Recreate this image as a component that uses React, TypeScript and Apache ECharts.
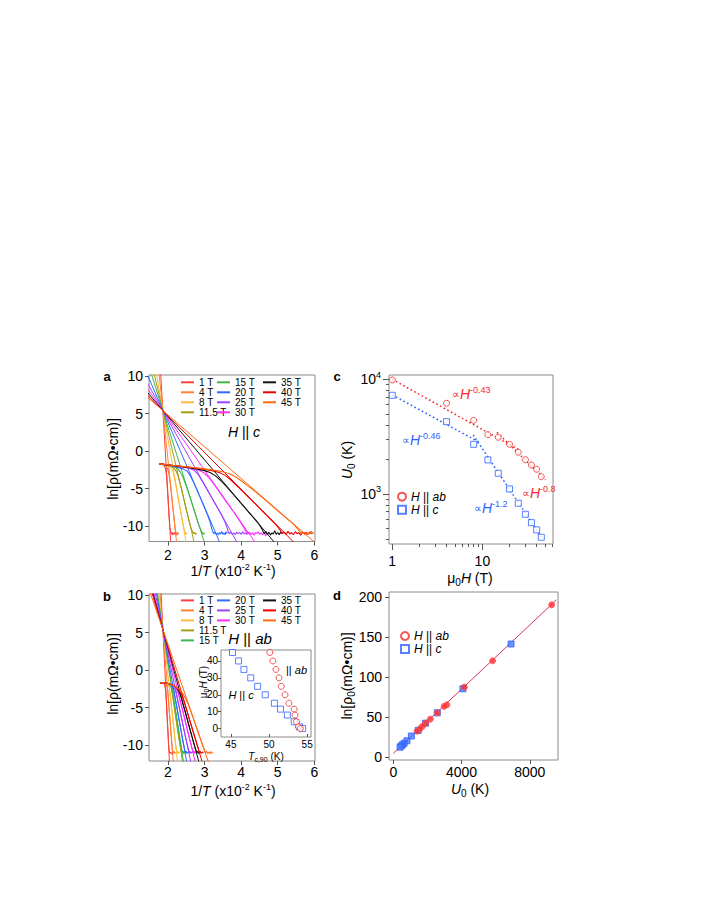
import React, { useEffect, useRef } from 'react';
import * as echarts from 'echarts';

const FF = '"Liberation Sans", Arial, Helvetica, sans-serif';

// ---------- shared field list ----------
const FIELDS = ['1 T', '4 T', '8 T', '11.5 T', '15 T', '20 T', '25 T', '30 T', '35 T', '40 T', '45 T'];
const FIELD_COLORS = ['#ff4040', '#ff8030', '#ffbb3a', '#a39d12', '#3fb64a', '#2f6bff', '#a040ff', '#ff2bff', '#111111', '#ee0000', '#ff6a13'];

// ---------- panel a (H || c): Arrhenius fit lines (end points) ----------
const FIT_Y = [10.5, -12.3];
const aFitTopX = [1.798, 1.751, 1.675, 1.611, 1.531, 1.409, 1.271, 1.127, 0.975, 0.819, 0.654];
const aFitBotX = [2.074, 2.237, 2.501, 2.723, 3.002, 3.426, 3.904, 4.403, 4.933, 5.472, 6.044];

// panel a measured curves
const a1T = [[1.77,-1.7],[1.85,-1.78],[1.9,-1.95],[1.93,-2.3],[1.96,-3.2],[1.99,-5.4],[2.02,-7.9],[2.05,-10.1],[2.07,-10.8],[2.09,-11.1],[2.11,-10.8],[2.13,-11.2],[2.15,-10.9],[2.17,-11.1],[2.19,-10.8],[2.21,-11.0],[2.23,-11.2],[2.25,-10.9]];
const a4T = [[1.77,-1.7],[1.85,-1.78],[1.92,-1.9],[1.97,-2.1],[2.0,-2.5],[2.03,-3.2],[2.06,-4.3],[2.1,-6.0],[2.14,-7.9],[2.18,-9.7],[2.2,-10.5],[2.22,-10.9],[2.24,-11.1],[2.26,-10.8],[2.28,-11.1],[2.3,-10.9]];
const a8T = [[1.77,-1.7],[1.85,-1.78],[1.95,-1.88],[2.03,-2.0],[2.09,-2.3],[2.14,-2.8],[2.18,-3.6],[2.23,-4.9],[2.28,-6.3],[2.34,-7.9],[2.4,-9.5],[2.44,-10.4],[2.47,-10.8],[2.49,-11.1],[2.51,-10.9],[2.53,-11.0]];
const a11T = [[1.77,-1.7],[1.9,-1.82],[2.0,-1.92],[2.1,-2.05],[2.17,-2.3],[2.23,-2.75],[2.28,-3.4],[2.34,-4.5],[2.4,-5.7],[2.47,-7.2],[2.54,-8.6],[2.61,-10.0],[2.66,-10.6],[2.69,-11.0],[2.72,-10.8],[2.75,-11.1],[2.78,-10.9]];
const a15T = [[1.77,-1.7],[1.9,-1.82],[2.05,-1.95],[2.18,-2.1],[2.27,-2.35],[2.34,-2.8],[2.41,-3.5],[2.48,-4.4],[2.56,-5.5],[2.65,-6.9],[2.74,-8.3],[2.83,-9.7],[2.9,-10.5],[2.93,-11.0],[2.95,-10.8],[2.97,-11.1],[3.0,-10.9]];
const a20T = [[1.77,-1.7],[1.95,-1.86],[2.15,-2.02],[2.3,-2.2],[2.42,-2.4],[2.52,-2.65],[2.6,-3.2],[2.7,-4.15],[2.8,-5.3],[2.9,-6.4],[3.0,-7.55],[3.1,-8.75],[3.16,-9.6],[3.2,-10.4],[3.23,-10.8],
  [3.26,-11.0],[3.29,-10.8],[3.32,-11.1],[3.35,-10.9],[3.38,-11.2],[3.41,-10.85],[3.44,-11.05],[3.47,-10.7],[3.5,-11.1],[3.53,-10.9],[3.56,-11.15],[3.59,-10.75],[3.62,-11.0]];
const a25T = [[1.77,-1.7],[2.0,-1.88],[2.3,-2.06],[2.55,-2.25],[2.7,-2.5],[2.8,-2.95],[2.9,-3.7],[3.0,-4.55],[3.1,-5.4],[3.2,-6.25],[3.3,-7.1],[3.4,-7.95],[3.5,-8.85],[3.57,-9.6],[3.62,-10.3],[3.65,-10.8],
  [3.68,-11.0],[3.72,-10.8],[3.76,-11.1],[3.8,-10.9],[3.84,-11.15],[3.88,-10.8],[3.92,-11.0],[3.96,-10.85],[4.0,-11.1],[4.04,-10.75],[4.08,-11.05],[4.12,-10.9],[4.16,-11.1],[4.19,-10.8]];
const a30T = [[1.77,-1.7],[2.1,-1.92],[2.4,-2.1],[2.65,-2.3],[2.85,-2.55],[3.0,-2.95],[3.1,-3.45],[3.2,-4.05],[3.3,-4.7],[3.4,-5.4],[3.6,-6.8],[3.8,-8.15],[3.95,-9.25],[4.05,-10.0],[4.12,-10.6],[4.16,-10.9],
  [4.19,-11.05],[4.23,-10.8],[4.27,-11.1],[4.31,-10.9],[4.35,-11.2],[4.39,-10.85],[4.43,-11.0],[4.47,-10.75],[4.51,-11.1],[4.55,-10.9],[4.59,-11.15],[4.63,-10.8],[4.67,-11.3],[4.7,-11.0]];
const a35T = [[1.77,-1.7],[2.1,-1.9],[2.5,-2.15],[2.8,-2.4],[3.0,-2.6],[3.15,-2.85],[3.3,-3.3],[3.45,-3.95],[3.6,-4.75],[3.8,-5.85],[4.0,-6.98],[4.2,-8.1],[4.4,-9.2],[4.5,-9.8],[4.57,-10.4],[4.61,-10.8],
  [4.64,-11.0],[4.68,-10.7],[4.72,-11.1],[4.76,-10.8],[4.8,-11.2],[4.84,-10.9],[4.88,-11.05],[4.92,-10.6],[4.96,-11.1],[5.0,-10.85],[5.04,-11.15],[5.08,-10.8],[5.12,-11.0],[5.15,-10.9]];
const a40T = [[1.77,-1.7],[2.1,-1.9],[2.5,-2.1],[2.9,-2.35],[3.2,-2.6],[3.4,-2.85],[3.55,-3.2],[3.7,-3.75],[3.85,-4.45],[4.0,-5.15],[4.4,-7.1],[4.8,-9.05],[4.95,-9.8],[5.05,-10.4],[5.1,-10.8],
  [5.13,-11.0],[5.18,-10.8],[5.23,-11.1],[5.28,-10.7],[5.33,-11.05],[5.38,-10.85],[5.43,-11.15],[5.48,-10.75],[5.53,-11.0],[5.58,-10.9],[5.63,-11.2],[5.68,-10.8],[5.73,-11.05],[5.78,-10.85],[5.83,-11.1],[5.88,-10.8],[5.93,-11.0],[5.97,-10.9]];
const a45T = [[1.77,-1.7],[2.1,-1.88],[2.5,-2.08],[2.9,-2.3],[3.2,-2.5],[3.5,-2.75],[3.7,-3.05],[3.85,-3.45],[4.0,-3.95],[4.15,-4.5],[4.3,-5.05],[4.6,-6.25],[5.0,-7.95],[5.4,-9.6],[5.52,-10.2],[5.6,-10.7],
  [5.63,-10.95],[5.67,-10.75],[5.71,-11.0],[5.75,-10.8],[5.79,-11.1],[5.83,-10.9],[5.87,-11.05],[5.91,-10.7],[5.95,-11.0],[5.99,-10.85]];
const A_CURVES = [a1T, a4T, a8T, a11T, a15T, a20T, a25T, a30T, a35T, a40T, a45T];

// ---------- panel b (H || ab) ----------
const bFitTopX = [1.808, 1.777, 1.744, 1.705, 1.697, 1.672, 1.639, 1.604, 1.575, 1.549, 1.5];
const bFitBotX = [2.039, 2.146, 2.263, 2.398, 2.427, 2.513, 2.626, 2.749, 2.849, 2.939, 3.111];

const b1T = [[1.78,-1.75],[1.85,-1.68],[1.9,-1.85],[1.93,-2.5],[1.96,-4.6],[1.99,-7.5],[2.02,-10.2],[2.035,-10.8],[2.05,-11.1],[2.07,-10.9],[2.09,-11.05],[2.11,-11.2],[2.13,-10.95]];
const b4T = [[1.78,-1.75],[1.85,-1.66],[1.92,-1.72],[1.96,-1.95],[1.99,-2.6],[2.01,-3.6],[2.03,-5.2],[2.06,-7.0],[2.09,-8.85],[2.11,-10.1],[2.12,-10.6],[2.14,-11.0],[2.16,-10.8],[2.18,-11.1],[2.2,-10.9]];
const b8T = [[1.78,-1.75],[1.85,-1.65],[1.95,-1.72],[2.01,-1.95],[2.04,-2.4],[2.07,-3.5],[2.1,-5.0],[2.14,-6.9],[2.18,-8.7],[2.21,-10.0],[2.23,-10.6],[2.25,-11.0],[2.27,-10.8],[2.29,-11.1],[2.31,-10.9]];
const b11T = [[1.78,-1.75],[1.85,-1.65],[1.95,-1.7],[2.04,-1.9],[2.08,-2.2],[2.11,-2.9],[2.15,-4.2],[2.2,-5.85],[2.25,-7.5],[2.3,-9.1],[2.34,-10.2],[2.36,-10.7],[2.38,-11.0],[2.4,-10.85],[2.42,-11.1],[2.44,-10.9]];
const b15T = [[1.78,-1.75],[1.85,-1.65],[1.95,-1.7],[2.05,-1.9],[2.1,-2.25],[2.13,-3.0],[2.16,-4.0],[2.2,-5.25],[2.25,-6.8],[2.3,-8.35],[2.35,-9.9],[2.37,-10.5],[2.4,-11.0],[2.42,-10.8],[2.44,-11.1],[2.46,-10.9]];
const b20T = [[1.78,-1.75],[1.85,-1.65],[1.95,-1.7],[2.05,-1.88],[2.12,-2.2],[2.16,-2.8],[2.2,-3.85],[2.25,-5.2],[2.3,-6.55],[2.35,-7.9],[2.4,-9.25],[2.44,-10.2],[2.46,-10.7],[2.48,-11.0],[2.5,-10.8],[2.52,-11.1],[2.55,-10.9],[2.57,-11.0]];
const b25T = [[1.78,-1.75],[1.85,-1.65],[1.95,-1.7],[2.05,-1.85],[2.14,-2.1],[2.19,-2.5],[2.22,-3.0],[2.25,-3.7],[2.3,-4.8],[2.35,-5.95],[2.4,-7.1],[2.45,-8.25],[2.5,-9.4],[2.54,-10.2],[2.56,-10.6],[2.58,-11.0],[2.6,-10.8],[2.62,-11.1],[2.65,-10.9],[2.67,-11.0]];
const b30T = [[1.78,-1.75],[1.85,-1.65],[1.95,-1.7],[2.05,-1.85],[2.15,-2.05],[2.22,-2.4],[2.26,-2.85],[2.3,-3.45],[2.35,-4.4],[2.4,-5.38],[2.5,-7.35],[2.6,-9.35],[2.64,-10.1],[2.67,-10.6],[2.69,-11.0],[2.71,-10.8],[2.73,-11.1],[2.76,-10.9],[2.78,-11.0]];
const b35T = [[1.78,-1.75],[1.85,-1.65],[1.95,-1.7],[2.05,-1.85],[2.15,-2.05],[2.23,-2.3],[2.28,-2.65],[2.32,-3.1],[2.36,-3.65],[2.4,-4.35],[2.5,-6.1],[2.6,-7.9],[2.7,-9.65],[2.74,-10.25],[2.76,-10.6],[2.78,-11.0],[2.8,-10.8],[2.83,-11.1],[2.86,-10.9],[2.88,-11.05]];
const b40T = [[1.78,-1.75],[1.85,-1.65],[1.95,-1.7],[2.05,-1.85],[2.15,-2.05],[2.25,-2.35],[2.31,-2.7],[2.36,-3.15],[2.4,-3.6],[2.45,-4.3],[2.5,-5.15],[2.6,-6.8],[2.7,-8.4],[2.78,-9.7],[2.82,-10.3],[2.84,-10.65],[2.86,-11.0],[2.88,-10.8],[2.91,-11.1],[2.94,-10.9],[2.97,-11.0]];
const b45T = [[1.78,-1.75],[1.85,-1.65],[1.95,-1.7],[2.05,-1.85],[2.15,-2.05],[2.25,-2.35],[2.33,-2.65],[2.39,-3.0],[2.44,-3.4],[2.5,-4.0],[2.55,-4.5],[2.6,-5.15],[2.7,-6.55],[2.8,-7.95],[2.9,-9.35],[2.96,-10.2],[3.0,-10.7],[3.02,-11.0],[3.05,-10.8],[3.08,-11.1],[3.11,-10.9],[3.14,-11.15],[3.17,-10.85],[3.2,-11.0],[3.23,-11.1]];
const B_CURVES = [b1T, b4T, b8T, b11T, b15T, b20T, b25T, b30T, b35T, b40T, b45T];

// ---------- inset of panel b: mu0H vs Tc,90 ----------
const insetH = [45, 40, 35, 30, 25, 20, 15, 11.5, 8, 4, 1, 0];
const insetTcC = [45.2, 46.0, 46.7, 47.6, 48.5, 49.5, 50.7, 51.5, 52.4, 53.3, 54.0, 54.4];
const insetTcAb = [50.1, 50.5, 50.9, 51.3, 51.6, 52.1, 52.6, 53.3, 53.4, 53.6, 53.85, 54.1];

// ---------- panel c: U0 vs mu0H ----------
const cH = [1, 4, 8, 11.5, 15, 20, 25, 30, 35, 40, 45];
const cU0Ab = [9870, 6180, 4390, 3290, 3120, 2710, 2310, 1990, 1790, 1640, 1415];
const cU0C = [7250, 4270, 2710, 1980, 1515, 1105, 830, 665, 562, 486, 419];
const cFitAb1 = [[1, 10000], [26, 2400]];
const cFitAb2 = [[14.5, 3450], [50, 1330]];
const cFitC1 = [[1, 7300], [9.4, 2800]];
const cFitC2 = [[7.9, 3270], [47, 400]];

// ---------- panel d: ln rho0 vs U0 ----------
const dU0Ab = [9280, 5820, 4160, 3140, 2980, 2580, 2170, 1900, 1700, 1560, 1400];
const dLnAb = [190, 120, 87, 65, 63, 55, 47, 42, 38, 35, 32];
const dU0C = [6900, 4080, 2580, 1890, 1460, 1060, 800, 640, 540, 460, 400];
const dLnC = [141, 85, 55, 42, 33, 26, 20, 17, 15, 13.5, 12];
const dFit = [[0, 4.2], [9550, 196]];

const RED = '#f22a2a';
const BLUE = '#2e62ff';
const PAR = '||';

function rich(fs: number) {
  const s = Math.round(fs * 0.65);
  const u = Math.round(fs * 0.7);
  return {
    n: { fontSize: fs, fontFamily: FF, lineHeight: fs + 4 },
    p: { fontSize: Math.round(fs * 0.8), fontFamily: FF, lineHeight: fs + 4 },
    i: { fontSize: fs, fontFamily: FF, fontStyle: 'italic', lineHeight: fs + 4 },
    s: { fontSize: s, fontFamily: FF, verticalAlign: 'top', lineHeight: s + 1 },
    u: { fontSize: u, fontFamily: FF, verticalAlign: 'bottom', lineHeight: u + 1 },
  };
}

function txt(x: number, y: number, text: string, o: any = {}) {
  const fs = o.fontSize ?? 14;
  return {
    type: 'text',
    x, y,
    rotation: o.rotation ?? 0,
    silent: true,
    z: 50,
    style: {
      text,
      fontFamily: FF,
      fontSize: fs,
      fontWeight: o.fontWeight ?? 'normal',
      fill: o.fill ?? '#000',
      align: o.align ?? 'center',
      verticalAlign: 'middle',
      rich: rich(fs),
    },
  };
}

function valAxis(gridIndex: number, min: number, max: number, vals: number[], o: any = {}) {
  return {
    type: 'value',
    gridIndex, min, max,
    splitLine: { show: false },
    axisLine: { show: false, onZero: false },
    axisTick: { show: true, inside: o.inside ?? false, length: o.tickLen ?? 4, customValues: vals, lineStyle: { color: '#555' } },
    axisLabel: { customValues: vals, fontSize: o.fontSize ?? 14, color: '#000', fontFamily: FF, margin: o.margin ?? 6, formatter: (v: number) => String(v) },
  };
}

function legendCol(left: number, top: number, data: string[], lh: number) {
  return {
    orient: 'vertical', left, top, data, padding: 0,
    itemWidth: 13, itemHeight: 2, itemGap: 0, icon: 'rect',
    selectedMode: false,
    textStyle: { fontSize: 10, lineHeight: lh, fontFamily: FF, color: '#000' },
  };
}

function symLegend(left: number, top: number) {
  return {
    orient: 'vertical', left, top, data: ['H || ab', 'H || c'], padding: 0,
    itemWidth: 8, itemHeight: 8, itemGap: 1, selectedMode: false,
    formatter: (name: string) => (name === 'H || ab' ? '{i|H} || {i|ab}' : '{i|H} || {i|c}'),
    textStyle: {
      fontSize: 12, lineHeight: 12, fontFamily: FF, color: '#000',
      rich: { i: { fontSize: 12, fontStyle: 'italic', fontFamily: FF } },
    },
  };
}

export default function App() {
  const ref = useRef<HTMLDivElement>(null);
  useEffect(() => {
    if (!ref.current) return;
    const chart = echarts.init(ref.current, undefined, { renderer: 'svg' });

    const series: any[] = [];
    FIELDS.forEach((name, i) => {
      const col = FIELD_COLORS[i];
      const base = { type: 'line', symbol: 'none', showSymbol: false, silent: true, itemStyle: { color: col }, lineStyle: { width: 1, color: col } };
      series.push({ ...base, name: name + ' fit a', xAxisIndex: 0, yAxisIndex: 0, data: [[aFitTopX[i], FIT_Y[0]], [aFitBotX[i], FIT_Y[1]]] });
      series.push({ ...base, name: name + ' fit b', xAxisIndex: 1, yAxisIndex: 1, data: [[bFitTopX[i], FIT_Y[0]], [bFitBotX[i], FIT_Y[1]]] });
    });
    FIELDS.forEach((name, i) => {
      const col = FIELD_COLORS[i];
      const base = { type: 'line', symbol: 'none', showSymbol: false, silent: true, itemStyle: { color: col }, lineStyle: { width: 1.1, color: col } };
      series.push({ ...base, name, xAxisIndex: 0, yAxisIndex: 0, data: A_CURVES[i] });
      series.push({ ...base, name, xAxisIndex: 1, yAxisIndex: 1, data: B_CURVES[i] });
    });

    // inset
    series.push({
      type: 'scatter', name: 'inset c', xAxisIndex: 2, yAxisIndex: 2, symbol: 'rect', symbolSize: 6, silent: true, z: 6,
      itemStyle: { color: '#fff', borderColor: BLUE, borderWidth: 1 },
      data: insetH.map((h, i) => [insetTcC[i], h]),
    });
    series.push({
      type: 'scatter', name: 'inset ab', xAxisIndex: 2, yAxisIndex: 2, symbol: 'circle', symbolSize: 6, silent: true, z: 6,
      itemStyle: { color: '#fff', borderColor: RED, borderWidth: 1 },
      data: insetH.map((h, i) => [insetTcAb[i], h]),
    });

    // panel c
    const dotted = (name: string, data: number[][], color: string) => ({
      type: 'line', name, xAxisIndex: 3, yAxisIndex: 3, data, symbol: 'none', silent: true,
      lineStyle: { color, width: 1.6, type: [1.6, 2.6] }, itemStyle: { color }, z: 2,
    });
    series.push({
      type: 'scatter', name: 'H || ab', xAxisIndex: 3, yAxisIndex: 3, symbol: 'circle', symbolSize: 6, silent: true, z: 4,
      itemStyle: { color: '#fff', borderColor: RED, borderWidth: 1 },
      data: cH.map((h, i) => [h, cU0Ab[i]]),
    });
    series.push({
      type: 'scatter', name: 'H || c', xAxisIndex: 3, yAxisIndex: 3, symbol: 'rect', symbolSize: 6, silent: true, z: 4,
      itemStyle: { color: '#fff', borderColor: BLUE, borderWidth: 1 },
      data: cH.map((h, i) => [h, cU0C[i]]),
    });
    series.push(dotted('fit ab1', cFitAb1, RED));
    series.push(dotted('fit ab2', cFitAb2, RED));
    series.push(dotted('fit c1', cFitC1, BLUE));
    series.push(dotted('fit c2', cFitC2, BLUE));

    // panel d
    series.push({
      type: 'line', name: 'd fit', xAxisIndex: 5, yAxisIndex: 5, data: dFit, symbol: 'none', silent: true,
      lineStyle: { color: '#d8305a', width: 1 }, itemStyle: { color: '#d8305a' }, z: 2,
    });
    series.push({
      type: 'scatter', name: 'H || c', xAxisIndex: 5, yAxisIndex: 5, symbol: 'rect', symbolSize: 6, silent: true, z: 4,
      itemStyle: { color: '#4a7bff', borderColor: BLUE, borderWidth: 1 },
      data: dU0C.map((u, i) => [u, dLnC[i]]),
    });
    series.push({
      type: 'scatter', name: 'H || ab', xAxisIndex: 5, yAxisIndex: 5, symbol: 'circle', symbolSize: 6, silent: true, z: 5,
      itemStyle: { color: '#ff3030', borderColor: '#ff5050', borderWidth: 1 },
      data: dU0Ab.map((u, i) => [u, dLnAb[i]]),
    });

    const gridStyle = { show: true, borderColor: '#8a8a8a', borderWidth: 1, backgroundColor: 'transparent' };

    const logX = (gridIndex: number, vals: number[], showLabel: boolean, len: number) => ({
      type: 'log', logBase: 10, gridIndex, min: 0.92, max: 60.7,
      splitLine: { show: false }, axisLine: { show: false, onZero: false },
      axisTick: { show: true, inside: false, length: len, customValues: vals, lineStyle: { color: '#555' } },
      axisLabel: showLabel
        ? { customValues: [1, 10], fontSize: 14, color: '#000', fontFamily: FF, margin: 10, formatter: (v: number) => String(v) }
        : { show: false },
    });
    const logY = (gridIndex: number, vals: number[], showLabel: boolean, len: number) => ({
      type: 'log', logBase: 10, gridIndex, min: 366, max: 10900,
      splitLine: { show: false }, axisLine: { show: false, onZero: false },
      axisTick: { show: true, inside: false, length: len, customValues: vals, lineStyle: { color: '#555' } },
      axisLabel: showLabel
        ? {
            customValues: [1000, 10000], fontSize: 14, color: '#000', fontFamily: FF, margin: 8, lineHeight: 18,
            formatter: (v: number) => (v > 5000 ? '10{s|4}' : '10{s|3}'),
            rich: { s: { fontSize: 9, fontFamily: FF, verticalAlign: 'top', lineHeight: 10 } },
          }
        : { show: false },
    });

    const option: any = {
      animation: false,
      backgroundColor: '#fff',
      textStyle: { fontFamily: FF },
      grid: [
        { left: 149, top: 375, width: 166, height: 166.5, ...gridStyle },
        { left: 149, top: 594, width: 166, height: 167, ...gridStyle },
        { left: 221, top: 650, width: 90, height: 87, ...gridStyle, backgroundColor: '#fff' },
        { left: 389, top: 375, width: 164, height: 169, ...gridStyle },
        { left: 389, top: 375, width: 164, height: 169, show: false },
        { left: 389, top: 592, width: 169, height: 168, ...gridStyle },
      ],
      xAxis: [
        valAxis(0, 1.48, 6.02, [2, 3, 4, 5, 6]),
        valAxis(1, 1.48, 6.02, [2, 3, 4, 5, 6], { margin: 4 }),
        valAxis(2, 43.7, 55.5, [45, 50, 55], { fontSize: 10, margin: 2, tickLen: 3, inside: true }),
        logX(3, [1, 10], true, 6),
        logX(4, [2, 3, 4, 5, 6, 7, 8, 9, 20, 30, 40, 50, 60], false, 3),
        valAxis(5, -250, 9650, [0, 4000, 8000], { margin: 5 }),
      ],
      yAxis: [
        valAxis(0, -12.05, 10.15, [-10, -5, 0, 5, 10]),
        valAxis(1, -12.1, 10.15, [-10, -5, 0, 5, 10]),
        valAxis(2, -5, 46.5, [0, 10, 20, 30, 40], { fontSize: 10, margin: 3, tickLen: 3 }),
        logY(3, [1000, 10000], true, 6),
        logY(4, [400, 500, 600, 700, 800, 900, 2000, 3000, 4000, 5000, 6000, 7000, 8000, 9000], false, 3),
        valAxis(5, -4, 206, [0, 50, 100, 150, 200], { margin: 7 }),
      ],
      legend: [
        legendCol(181, 377.3, ['1 T', '4 T', '8 T', '11.5 T'], 10),
        legendCol(217, 377.3, ['15 T', '20 T', '25 T', '30 T'], 10),
        legendCol(263, 377.3, ['35 T', '40 T', '45 T'], 10),
        legendCol(181, 595.4, ['1 T', '4 T', '8 T', '11.5 T', '15 T'], 9.2),
        legendCol(217, 595.4, ['20 T', '25 T', '30 T'], 9.2),
        legendCol(263, 595.4, ['35 T', '40 T', '45 T'], 9.2),
        symLegend(397, 490.7),
        symLegend(400, 630),
      ],
      graphic: {
        elements: [
          txt(107, 376, 'a', { fontWeight: 'bold', fontSize: 13 }),
          txt(107, 596, 'b', { fontWeight: 'bold', fontSize: 13 }),
          txt(337, 376, 'c', { fontWeight: 'bold', fontSize: 13 }),
          txt(337, 595, 'd', { fontWeight: 'bold', fontSize: 13 }),
          txt(113, 459, 'ln[ρ(mΩ•cm)]', { rotation: Math.PI / 2 }),
          txt(113, 674, 'ln[ρ(mΩ•cm)]', { rotation: Math.PI / 2 }),
          txt(233, 571, '{n|1/}{i|T}{n| (x10}{s|-2}{n| K}{s|-1}{n|)}'),
          txt(233, 791, '{n|1/}{i|T}{n| (x10}{s|-2}{n| K}{s|-1}{n|)}'),
          txt(347, 460, '{i|U}{u|0}{n| (K)}', { rotation: Math.PI / 2 }),
          txt(470, 578, '{n|μ}{u|0}{i|H}{n| (T)}'),
          txt(347, 676, '{n|ln[ρ}{u|0}{n|(mΩ•cm)]}', { rotation: Math.PI / 2 }),
          txt(470, 789, '{i|U}{u|0}{n| (K)}'),
          txt(244, 432, `{i|H}{n| ${PAR} }{i|c}`),
          txt(250, 638, `{i|H}{n| ${PAR} }{i|ab}`, { fontSize: 15 }),
          txt(286, 670, `{n|${PAR} }{i|ab}`, { fontSize: 11, align: 'left' }),
          txt(241, 695, `{i|H}{n| ${PAR} }{i|c}`, { fontSize: 11 }),
          txt(203, 682, '{n|μ}{u|0}{i|H}{n| (T)}', { fontSize: 10, rotation: Math.PI / 2 }),
          txt(266, 756, '{i|T}{u|c,90}{n| (K)}', { fontSize: 10 }),
          txt(452, 394, '{p|∝}{i|H}{s|-0.43}', { fill: RED, align: 'left' }),
          txt(402, 440, '{p|∝}{i|H}{s|-0.46}', { fill: BLUE, align: 'left' }),
          txt(522, 493, '{p|∝}{i|H}{s|-0.8}', { fill: RED, align: 'left' }),
          txt(474, 508, '{p|∝}{i|H}{s|-1.2}', { fill: BLUE, align: 'left' }),
        ],
      },
      series,
    };
    chart.setOption(option);
    return () => chart.dispose();
  }, []);
  return <div ref={ref} style={{ position: 'absolute', left: 0, top: 0, width: 708, height: 917, background: '#fff' }} />;
}
